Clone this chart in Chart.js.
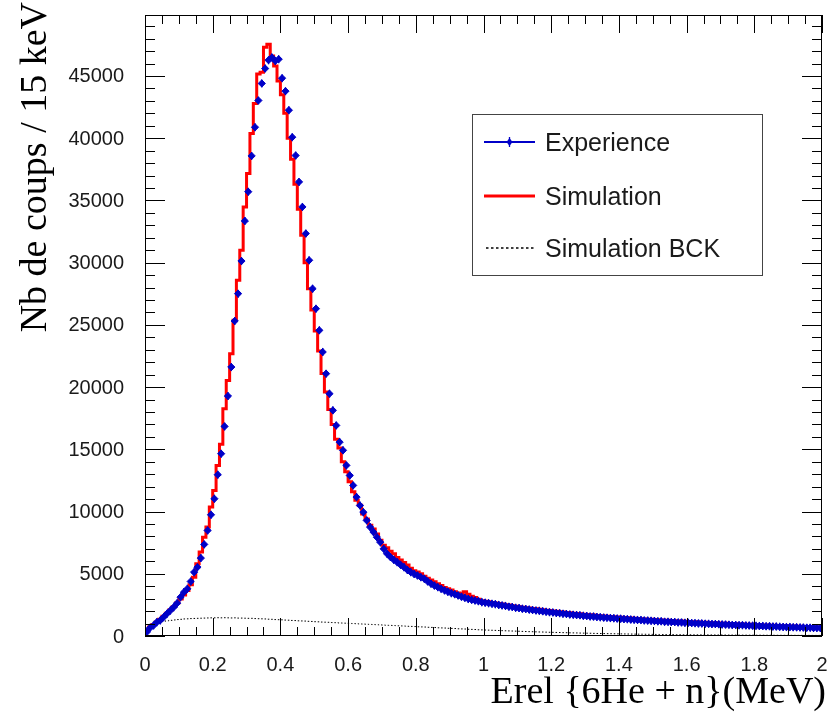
<!DOCTYPE html>
<html>
<head>
<meta charset="utf-8">
<script src="https://cdn.jsdelivr.net/npm/chart.js@4.4.1/dist/chart.umd.min.js"></script>
<style>
  html, body { margin: 0; padding: 0; background: #fff; }
  #wrap { width: 827px; height: 717px; }
</style>
</head>
<body>
<div id="wrap"><canvas id="myChart" width="827" height="717"></canvas></div>
<script>
// bin width in MeV (histogram bins start at 0)
const binWidth = 0.01;

const experience = [
  310, 660, 840, 1110, 1250, 1510, 1790, 2050, 2320, 2640,
  3120, 3520, 3790, 4380, 5130, 5530, 6260, 7360, 8480, 9740,
  11030, 12960, 14650, 16840, 19280, 21610, 25310, 27510, 30130, 33350,
  35700, 38580, 40880, 43030, 44400, 45600, 46270, 46490, 46210, 46350,
  44820, 43780, 42250, 40080, 38610, 36490, 34480, 32340, 30190, 27910,
  26300, 24560, 22820, 21080, 19470, 18130, 16920, 15580, 14920, 13710,
  12900, 12100, 11160, 10490, 9950, 9290, 8750, 8350, 7940, 7540,
  7010, 6610, 6340, 6120, 5930, 5720, 5530, 5310, 5130, 4980,
  4860, 4720, 4600, 4380, 4200, 4050, 3920, 3790, 3660, 3550,
  3440, 3350, 3260, 3160, 3070, 2980, 2910, 2850, 2790, 2720,
  2680, 2640, 2590, 2560, 2500, 2460, 2420, 2360, 2330, 2270,
  2240, 2190, 2170, 2120, 2090, 2050, 2020, 1980, 1950, 1910,
  1890, 1850, 1830, 1790, 1770, 1730, 1710, 1680, 1660, 1620,
  1610, 1570, 1560, 1530, 1510, 1480, 1470, 1440, 1430, 1400,
  1390, 1360, 1350, 1320, 1310, 1290, 1280, 1250, 1240, 1220,
  1210, 1180, 1180, 1150, 1140, 1120, 1120, 1090, 1090, 1060,
  1060, 1040, 1030, 1010, 1010, 990, 980, 960, 960, 940,
  930, 920, 910, 890, 890, 870, 870, 850, 840, 830,
  820, 800, 800, 780, 780, 760, 760, 740, 730, 720,
  720, 700, 700, 690, 680, 670, 670, 650, 650, 640
];

const simulation = [
  200, 480, 720, 930, 1130, 1340, 1580, 1830, 2090, 2360,
  2650, 2980, 3290, 3660, 4120, 4730, 5800, 6740, 7940, 8750,
  10360, 11700, 13710, 15400, 18270, 20540, 22690, 25370, 28580, 31000,
  34480, 37160, 40380, 42790, 45150, 45300, 47300, 47550, 46600, 45800,
  44600, 43500, 42000, 40000, 38300, 36300, 34300, 32200, 30000, 27900,
  26200, 24500, 22900, 21100, 19600, 18200, 17000, 15800, 15100, 14000,
  13200, 12400, 11600, 10900, 10500, 9800, 9400, 8900, 8600, 8200,
  7700, 7300, 7100, 6800, 6600, 6300, 6100, 5900, 5700, 5450,
  5250, 5150, 5000, 4800, 4650, 4500, 4350, 4200, 4050, 3900,
  3800, 3700, 3550, 3450, 3400, 3550, 3350, 3200, 3100, 2950,
  2830, 2800, 2760, 2700, 2660, 2620, 2580, 2520, 2490, 2440,
  2400, 2360, 2320, 2280, 2250, 2210, 2180, 2140, 2100, 2070,
  2040, 2000, 1980, 1940, 1920, 1880, 1860, 1830, 1800, 1780,
  1750, 1720, 1700, 1680, 1650, 1630, 1610, 1590, 1560, 1550,
  1520, 1500, 1490, 1460, 1450, 1420, 1410, 1390, 1370, 1350,
  1340, 1320, 1300, 1290, 1270, 1260, 1240, 1230, 1210, 1200,
  1180, 1170, 1150, 1140, 1130, 1110, 1100, 1090, 1070, 1060,
  1050, 1030, 1020, 1010, 1000, 980, 970, 960, 950, 940,
  920, 910, 900, 890, 880, 870, 860, 850, 840, 830,
  820, 810, 800, 790, 780, 770, 760, 750, 740, 730
];

const simulationBck = [
  250, 560, 780, 930, 1040, 1110, 1170, 1220, 1260, 1290,
  1320, 1340, 1370, 1380, 1400, 1410, 1420, 1430, 1440, 1450,
  1460, 1460, 1470, 1460, 1470, 1460, 1450, 1460, 1440, 1440,
  1430, 1420, 1420, 1400, 1390, 1380, 1370, 1350, 1340, 1320,
  1310, 1300, 1280, 1270, 1250, 1240, 1220, 1210, 1200, 1180,
  1170, 1150, 1140, 1120, 1110, 1100, 1080, 1070, 1050, 1040,
  1030, 1010, 1000, 990, 970, 960, 950, 930, 920, 910,
  890, 880, 860, 850, 840, 820, 810, 800, 780, 770,
  760, 740, 730, 720, 700, 690, 680, 660, 650, 640,
  620, 610, 600, 580, 570, 560, 540, 530, 520, 500,
  490, 480, 470, 460, 450, 440, 430, 420, 410, 400,
  390, 380, 370, 360, 350, 345, 335, 325, 320, 310,
  300, 295, 285, 280, 270, 265, 255, 250, 245, 235,
  230, 225, 220, 210, 205, 200, 195, 190, 185, 180,
  175, 170, 165, 160, 155, 150, 148, 145, 140, 135,
  132, 128, 125, 120, 118, 115, 112, 110, 106, 104,
  100, 98, 96, 94, 92, 90, 88, 86, 84, 82,
  80, 78, 76, 75, 73, 72, 70, 69, 68, 66,
  65, 64, 63, 62, 60, 59, 58, 57, 56, 55,
  54, 53, 52, 51, 50, 50, 49, 48, 47, 46
];

const xTickLabels = [0, 0.2, 0.4, 0.6, 0.8, 1, 1.2, 1.4, 1.6, 1.8, 2];
const yTickLabels = [0, 5000, 10000, 15000, 20000, 25000, 30000, 35000, 40000, 45000];
const xMin = 0, xMax = 2;
const yMin = 0, yMax = 49900;

const BLUE = '#0000c8';
const RED = '#ff0000';
const SANS = '"Liberation Sans", Arial, sans-serif';
const SERIF = '"Liberation Serif", "Times New Roman", serif';

// histogram step data: one point per lower bin edge + closing point
function stepData(vals) {
  const pts = vals.map((v, i) => ({ x: i * binWidth, y: v }));
  pts.push({ x: vals.length * binWidth, y: vals[vals.length - 1] });
  return pts;
}
const expPoints = experience.map((v, i) => ({ x: (i + 0.5) * binWidth, y: v }));

// ROOT-like frame, inner ticks, labels, titles and legend
const rootFrame = {
  id: 'rootFrame',
  afterDatasetsDraw(chart) {
    const ctx = chart.ctx;
    const xs = chart.scales.x, ys = chart.scales.y;
    const a = chart.chartArea;
    ctx.save();
    ctx.beginPath();
    ctx.rect(a.left, a.top, a.right - a.left, a.bottom - a.top);
    ctx.clip();
    ctx.strokeStyle = BLUE;
    ctx.lineWidth = 1.3;
    expPoints.forEach(p => {
      const px = xs.getPixelForValue(p.x);
      const x0 = xs.getPixelForValue(p.x - binWidth / 2);
      const x1 = xs.getPixelForValue(p.x + binWidth / 2);
      const err = Math.sqrt(p.y);
      const py = ys.getPixelForValue(p.y);
      const y0 = Math.max(ys.getPixelForValue(p.y - err), py + 4);
      const y1 = Math.min(ys.getPixelForValue(p.y + err), py - 4);
      ctx.beginPath();
      ctx.moveTo(x0 - 0.5, py); ctx.lineTo(x1 + 0.5, py);
      ctx.moveTo(px, y0); ctx.lineTo(px, y1);
      ctx.stroke();
    });
    ctx.restore();
  },
  afterDraw(chart) {
    const ctx = chart.ctx;
    const xs = chart.scales.x, ys = chart.scales.y;
    const { left, right, top, bottom } = chart.chartArea;
    ctx.save();

    // frame
    ctx.strokeStyle = '#000';
    ctx.lineWidth = 1;
    ctx.strokeRect(left + 0.5, top + 0.5, right - left - 1, bottom - top - 1);

    // y ticks (every 1000, major every 5000), left and right, inside
    ctx.beginPath();
    for (let k = 0; k * 1000 <= yMax; k++) {
      const py = Math.round(ys.getPixelForValue(k * 1000)) + 0.5;
      const len = k % 5 === 0 ? 20 : 10;
      ctx.moveTo(left, py); ctx.lineTo(left + len, py);
      ctx.moveTo(right, py); ctx.lineTo(right - len, py);
    }
    // x ticks (every 0.05, major every 0.2), bottom and top, inside
    for (let k = 0; k <= 40; k++) {
      const px = Math.round(xs.getPixelForValue(k * 0.05)) + 0.5;
      const len = k % 4 === 0 ? 18 : 9;
      ctx.moveTo(px, bottom); ctx.lineTo(px, bottom - len);
      ctx.moveTo(px, top); ctx.lineTo(px, top + len);
    }
    ctx.stroke();

    // tick labels
    ctx.fillStyle = '#1a1a1a';
    ctx.font = '20px ' + SANS;
    ctx.textAlign = 'right';
    ctx.textBaseline = 'middle';
    yTickLabels.forEach(v => {
      ctx.fillText(String(v), left - 21, ys.getPixelForValue(v) + 1);
    });
    ctx.textAlign = 'center';
    xTickLabels.forEach(v => {
      ctx.fillText(String(v), xs.getPixelForValue(v), bottom + 29);
    });

    // axis titles
    ctx.fillStyle = '#000';
    ctx.font = '38px ' + SERIF;
    ctx.textBaseline = 'alphabetic';
    ctx.textAlign = 'right';
    ctx.fillText('Erel {6He + n}(MeV)', 826, 703);
    ctx.save();
    ctx.translate(46, 2);
    ctx.rotate(-Math.PI / 2);
    ctx.fillText('Nb de coups / 15 keV', 0, 0);
    ctx.restore();

    // legend
    const lx = 472.5, ly = 114.5, lw = 290, lh = 161;
    ctx.fillStyle = '#fff';
    ctx.fillRect(lx, ly, lw, lh);
    ctx.strokeStyle = '#444';
    ctx.lineWidth = 1;
    ctx.strokeRect(lx, ly, lw, lh);

    const rows = [
      { label: 'Experience', y: 142 },
      { label: 'Simulation', y: 196 },
      { label: 'Simulation BCK', y: 248 }
    ];
    // Experience sample
    ctx.strokeStyle = BLUE; ctx.fillStyle = BLUE; ctx.lineWidth = 2;
    ctx.beginPath(); ctx.moveTo(484, rows[0].y); ctx.lineTo(535, rows[0].y); ctx.stroke();
    ctx.lineWidth = 1.3;
    ctx.beginPath(); ctx.moveTo(509.5, rows[0].y - 5); ctx.lineTo(509.5, rows[0].y + 5); ctx.stroke();
    ctx.beginPath();
    ctx.moveTo(509.5, rows[0].y - 4); ctx.lineTo(512.5, rows[0].y);
    ctx.lineTo(509.5, rows[0].y + 4); ctx.lineTo(506.5, rows[0].y); ctx.closePath(); ctx.fill();
    // Simulation sample
    ctx.strokeStyle = RED; ctx.lineWidth = 3;
    ctx.beginPath(); ctx.moveTo(484, rows[1].y); ctx.lineTo(535, rows[1].y); ctx.stroke();
    // BCK sample
    ctx.strokeStyle = '#000'; ctx.lineWidth = 1.5;
    ctx.setLineDash([2.5, 2.5]);
    ctx.beginPath(); ctx.moveTo(486, rows[2].y); ctx.lineTo(535, rows[2].y); ctx.stroke();
    ctx.setLineDash([]);

    ctx.fillStyle = '#1a1a1a';
    ctx.font = '25px ' + SANS;
    ctx.textAlign = 'left';
    ctx.textBaseline = 'middle';
    rows.forEach(r => ctx.fillText(r.label, 545, r.y + 2));

    ctx.restore();
  }
};

const ctx = document.getElementById('myChart').getContext('2d');
window.myChartInstance = new Chart(ctx, {
  type: 'line',
  data: {
    datasets: [
      {
        label: 'Experience',
        data: expPoints,
        showLine: false,
        pointStyle: 'rectRot',
        pointRadius: 3.6,
        pointBorderWidth: 1,
        pointBackgroundColor: BLUE,
        pointBorderColor: BLUE,
        order: 0
      },
      {
        label: 'Simulation',
        data: stepData(simulation),
        stepped: 'after',
        borderColor: RED,
        borderWidth: 3,
        pointRadius: 0,
        fill: false,
        order: 1
      },
      {
        label: 'Simulation BCK',
        data: stepData(simulationBck),
        stepped: 'after',
        borderColor: '#000',
        borderWidth: 1,
        borderDash: [1.5, 2],
        pointRadius: 0,
        fill: false,
        order: 2
      }
    ]
  },
  options: {
    responsive: false,
    devicePixelRatio: 1,
    animation: false,
    layout: { padding: { top: 15, right: 4, left: 0, bottom: 0 } },
    plugins: { legend: { display: false }, tooltip: { enabled: false } },
    scales: {
      x: {
        type: 'linear',
        min: xMin,
        max: xMax,
        grid: { display: false },
        border: { display: false },
        ticks: { display: false },
        afterFit(scale) { scale.height = 81; }
      },
      y: {
        type: 'linear',
        min: yMin,
        max: yMax,
        grid: { display: false },
        border: { display: false },
        ticks: { display: false },
        afterFit(scale) { scale.width = 145; }
      }
    }
  },
  plugins: [rootFrame]
});
</script>
</body>
</html>
